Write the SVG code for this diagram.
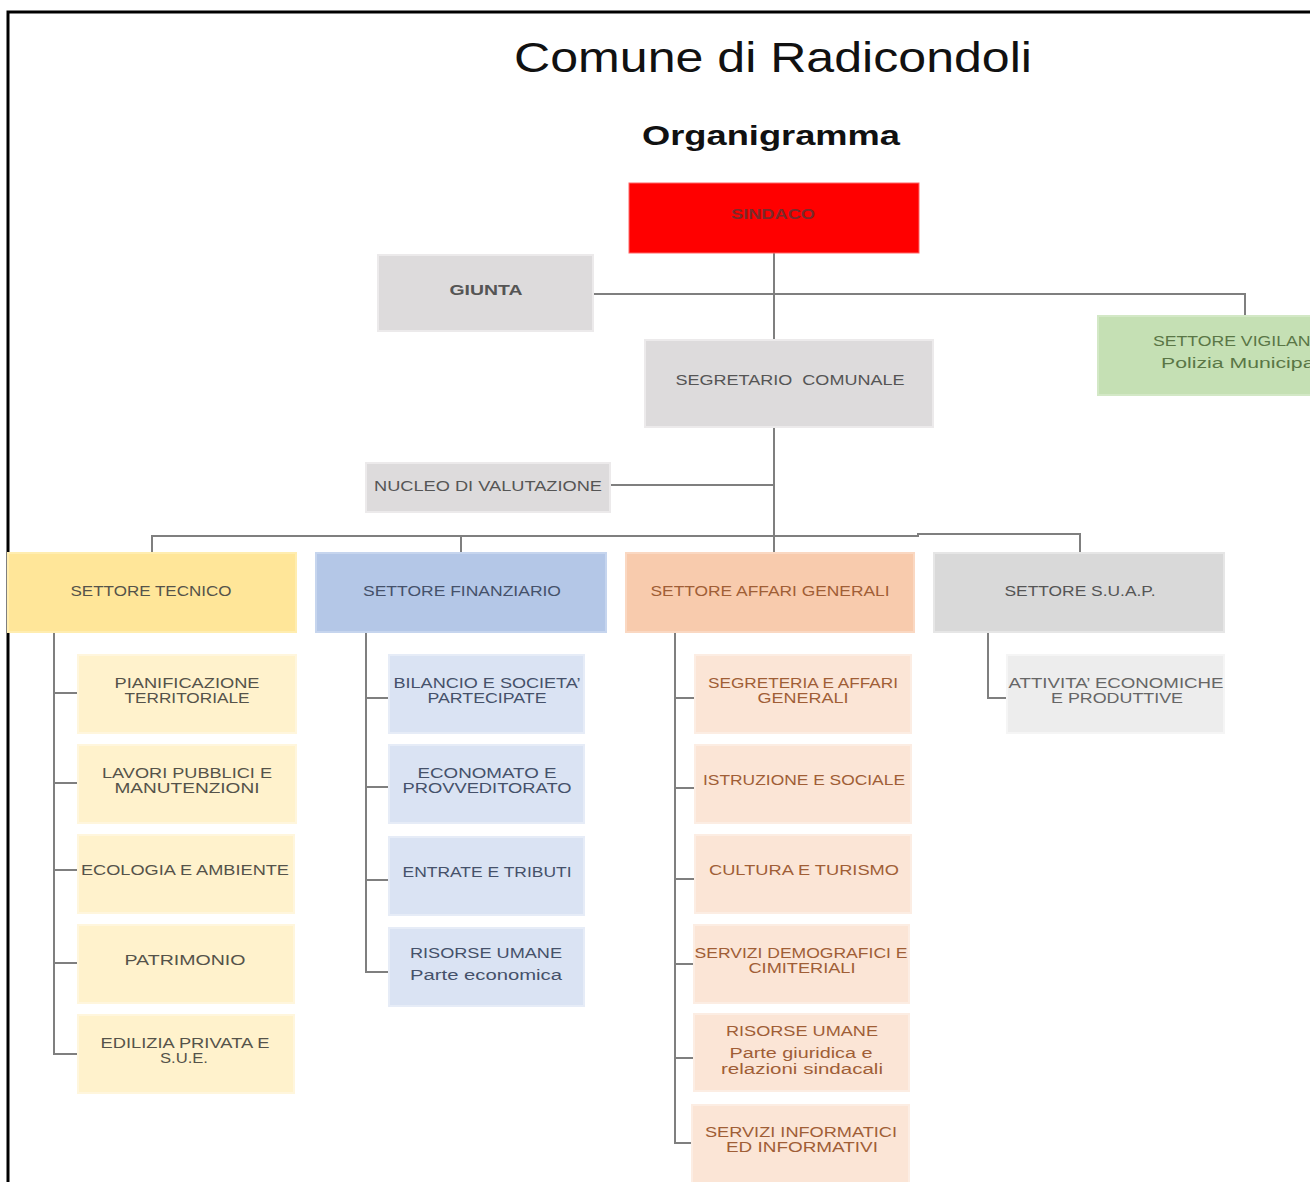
<svg xmlns="http://www.w3.org/2000/svg" width="1310" height="1182" viewBox="0 0 1310 1182">
<style>
.t{font-family:"Liberation Sans","DejaVu Sans",sans-serif;font-size:14px;text-anchor:middle;}
.c{fill:none;stroke:#7f7f7f;stroke-width:2;}
.frame{fill:none;stroke:#000;stroke-width:3;}
.grey{fill:#DDDBDC;stroke:#ECEAEB;stroke-width:2;}
.gt{fill:#555555;}
.y1{fill:#FFE699;stroke:#FFEDB0;stroke-width:2;}
.y2{fill:#FFF2CC;stroke:#FFF6DD;stroke-width:2;}
.yt{fill:#55534a;}
.b1{fill:#B4C7E7;stroke:#C6D5EE;stroke-width:2;}
.b2{fill:#DAE3F3;stroke:#E6ECF7;stroke-width:2;}
.bt{fill:#45516a;}
.o1{fill:#F8CBAD;stroke:#FAD8C2;stroke-width:2;}
.o2{fill:#FBE5D6;stroke:#FCEDE3;stroke-width:2;}
.ot{fill:#A05E36;}
.s1{fill:#D9D9D9;stroke:#E6E6E6;stroke-width:2;}
.s2{fill:#EDEDED;stroke:#F5F5F5;stroke-width:2;}
.st{fill:#666666;}
</style>
<rect x="0" y="0" width="1310" height="1182" fill="#ffffff"/>
<path class="frame" d="M8,1182 V12 H1310"/>
<g id="title">
<text x="773" y="72" font-family="Liberation Sans Narrow,Liberation Sans,sans-serif" font-size="42" text-anchor="middle" fill="#111" textLength="518" lengthAdjust="spacingAndGlyphs">Comune di Radicondoli</text>
<text x="771" y="145" font-family="Liberation Sans,sans-serif" font-size="28" font-weight="bold" text-anchor="middle" fill="#111" textLength="258" lengthAdjust="spacingAndGlyphs">Organigramma</text>
</g>
<g id="connectors">
<path class="c" d="M774,253 V340"/>
<path class="c" d="M593,294 H1245 V316"/>
<path class="c" d="M774,427 V553"/>
<path class="c" d="M610,485 H774"/>
<path class="c" d="M152,553 V536 H918 V534 H1080 V553"/>
<path class="c" d="M461,536 V553"/>
<path class="c" d="M54,632 V1054 H78 M54,693 H78 M54,783 H78 M54,870 H78 M54,963 H78"/>
<path class="c" d="M366,632 V972 H389 M366,698 H389 M366,787 H389 M366,880 H389"/>
<path class="c" d="M675,632 V1143 H695 M675,698 H695 M675,788 H695 M675,879 H695 M675,964 H695 M675,1058 H695"/>
<path class="c" d="M988,632 V698 H1007"/>
</g>
<g id="sindaco">
<rect x="629" y="183" width="290" height="70" fill="#FF0000" stroke="#ff6666" stroke-width="1"/>
<text class="t" x="773" y="219" fill="#7a2a2a" font-weight="bold" textLength="84" lengthAdjust="spacingAndGlyphs">SINDACO</text>
</g>
<g id="giunta">
<rect class="grey" x="378" y="255" width="215" height="76"/>
<text class="t gt" x="486" y="295" font-weight="bold" textLength="73" lengthAdjust="spacingAndGlyphs">GIUNTA</text>
</g>
<g id="segretario">
<rect class="grey" x="645" y="340" width="288" height="87"/>
<text class="t gt" x="790" y="385" xml:space="preserve" textLength="229" lengthAdjust="spacingAndGlyphs">SEGRETARIO  COMUNALE</text>
</g>
<g id="vigilanza">
<rect x="1098" y="316" width="240" height="79" fill="#C5E0B4" stroke="#D3E8C6" stroke-width="2"/>
<text x="1153" y="346" font-family="Liberation Sans,sans-serif" font-size="14" fill="#5a7646" textLength="180" lengthAdjust="spacingAndGlyphs">SETTORE VIGILANZA</text>
<text x="1161" y="368" font-family="Liberation Sans,sans-serif" font-size="14" fill="#5a7646" textLength="170" lengthAdjust="spacingAndGlyphs">Polizia Municipale</text>
</g>
<g id="nucleo">
<rect class="grey" x="366" y="463" width="244" height="49"/>
<text class="t gt" x="488" y="491" textLength="228" lengthAdjust="spacingAndGlyphs">NUCLEO DI VALUTAZIONE</text>
</g>
<g id="settore-tecnico">
<rect class="y1" x="8" y="553" width="288" height="79"/>
<text class="t yt" x="151" y="596" textLength="161" lengthAdjust="spacingAndGlyphs">SETTORE TECNICO</text>
</g>
<g id="settore-finanziario">
<rect class="b1" x="316" y="553" width="290" height="79"/>
<text class="t bt" x="462" y="596" textLength="198" lengthAdjust="spacingAndGlyphs">SETTORE FINANZIARIO</text>
</g>
<g id="settore-affari-generali">
<rect class="o1" x="626" y="553" width="288" height="79"/>
<text class="t ot" x="770" y="596" textLength="239" lengthAdjust="spacingAndGlyphs">SETTORE AFFARI GENERALI</text>
</g>
<g id="settore-suap">
<rect class="s1" x="934" y="553" width="290" height="79"/>
<text class="t gt" x="1080" y="596" textLength="151" lengthAdjust="spacingAndGlyphs">SETTORE S.U.A.P.</text>
</g>
<g id="pianificazione">
<rect class="y2" x="78" y="655" width="218" height="78"/>
<text class="t yt" x="187" y="688" textLength="145" lengthAdjust="spacingAndGlyphs">PIANIFICAZIONE</text>
<text class="t yt" x="187" y="703" textLength="125" lengthAdjust="spacingAndGlyphs">TERRITORIALE</text>
</g>
<g id="lavori-pubblici">
<rect class="y2" x="78" y="745" width="218" height="78"/>
<text class="t yt" x="187" y="778" textLength="170" lengthAdjust="spacingAndGlyphs">LAVORI PUBBLICI E</text>
<text class="t yt" x="187" y="793" textLength="145" lengthAdjust="spacingAndGlyphs">MANUTENZIONI</text>
</g>
<g id="ecologia">
<rect class="y2" x="78" y="835" width="216" height="78"/>
<text class="t yt" x="185" y="875" textLength="208" lengthAdjust="spacingAndGlyphs">ECOLOGIA E AMBIENTE</text>
</g>
<g id="patrimonio">
<rect class="y2" x="78" y="925" width="216" height="78"/>
<text class="t yt" x="185" y="965" textLength="121" lengthAdjust="spacingAndGlyphs">PATRIMONIO</text>
</g>
<g id="edilizia">
<rect class="y2" x="78" y="1015" width="216" height="78"/>
<text class="t yt" x="185" y="1048" textLength="169" lengthAdjust="spacingAndGlyphs">EDILIZIA PRIVATA E</text>
<text class="t yt" x="184" y="1063" textLength="48" lengthAdjust="spacingAndGlyphs">S.U.E.</text>
</g>
<g id="bilancio">
<rect class="b2" x="389" y="655" width="195" height="78"/>
<text class="t bt" x="487" y="688" textLength="187" lengthAdjust="spacingAndGlyphs">BILANCIO E SOCIETA’</text>
<text class="t bt" x="487" y="703" textLength="119" lengthAdjust="spacingAndGlyphs">PARTECIPATE</text>
</g>
<g id="economato">
<rect class="b2" x="389" y="745" width="195" height="78"/>
<text class="t bt" x="487" y="778" textLength="139" lengthAdjust="spacingAndGlyphs">ECONOMATO E</text>
<text class="t bt" x="487" y="793" textLength="169" lengthAdjust="spacingAndGlyphs">PROVVEDITORATO</text>
</g>
<g id="entrate">
<rect class="b2" x="389" y="837" width="195" height="78"/>
<text class="t bt" x="487" y="877" textLength="169" lengthAdjust="spacingAndGlyphs">ENTRATE E TRIBUTI</text>
</g>
<g id="risorse-umane-economica">
<rect class="b2" x="389" y="928" width="195" height="78"/>
<text class="t bt" x="486" y="958" textLength="152" lengthAdjust="spacingAndGlyphs">RISORSE UMANE</text>
<text class="t bt" x="486" y="980" textLength="152" lengthAdjust="spacingAndGlyphs">Parte economica</text>
</g>
<g id="segreteria">
<rect class="o2" x="695" y="655" width="216" height="78"/>
<text class="t ot" x="803" y="688" textLength="190" lengthAdjust="spacingAndGlyphs">SEGRETERIA E AFFARI</text>
<text class="t ot" x="803" y="703" textLength="91" lengthAdjust="spacingAndGlyphs">GENERALI</text>
</g>
<g id="istruzione">
<rect class="o2" x="695" y="745" width="216" height="78"/>
<text class="t ot" x="804" y="785" textLength="202" lengthAdjust="spacingAndGlyphs">ISTRUZIONE E SOCIALE</text>
</g>
<g id="cultura">
<rect class="o2" x="695" y="835" width="216" height="78"/>
<text class="t ot" x="804" y="875" textLength="190" lengthAdjust="spacingAndGlyphs">CULTURA E TURISMO</text>
</g>
<g id="demografici">
<rect class="o2" x="694" y="925" width="215" height="78"/>
<text class="t ot" x="801" y="958" textLength="213" lengthAdjust="spacingAndGlyphs">SERVIZI DEMOGRAFICI E</text>
<text class="t ot" x="802" y="973" textLength="107" lengthAdjust="spacingAndGlyphs">CIMITERIALI</text>
</g>
<g id="risorse-umane-giuridica">
<rect class="o2" x="694" y="1014" width="215" height="77"/>
<text class="t ot" x="802" y="1036" textLength="152" lengthAdjust="spacingAndGlyphs">RISORSE UMANE</text>
<text class="t ot" x="801" y="1058" textLength="143" lengthAdjust="spacingAndGlyphs">Parte giuridica e</text>
<text class="t ot" x="802" y="1074" textLength="162" lengthAdjust="spacingAndGlyphs">relazioni sindacali</text>
</g>
<g id="servizi-informatici">
<rect class="o2" x="692" y="1105" width="217" height="80"/>
<text class="t ot" x="801" y="1137" textLength="192" lengthAdjust="spacingAndGlyphs">SERVIZI INFORMATICI</text>
<text class="t ot" x="802" y="1152" textLength="152" lengthAdjust="spacingAndGlyphs">ED INFORMATIVI</text>
</g>
<g id="attivita-economiche">
<rect class="s2" x="1007" y="655" width="217" height="78"/>
<text class="t st" x="1116" y="688" textLength="215" lengthAdjust="spacingAndGlyphs">ATTIVITA’ ECONOMICHE</text>
<text class="t st" x="1117" y="703" textLength="132" lengthAdjust="spacingAndGlyphs">E PRODUTTIVE</text>
</g>
</svg>
